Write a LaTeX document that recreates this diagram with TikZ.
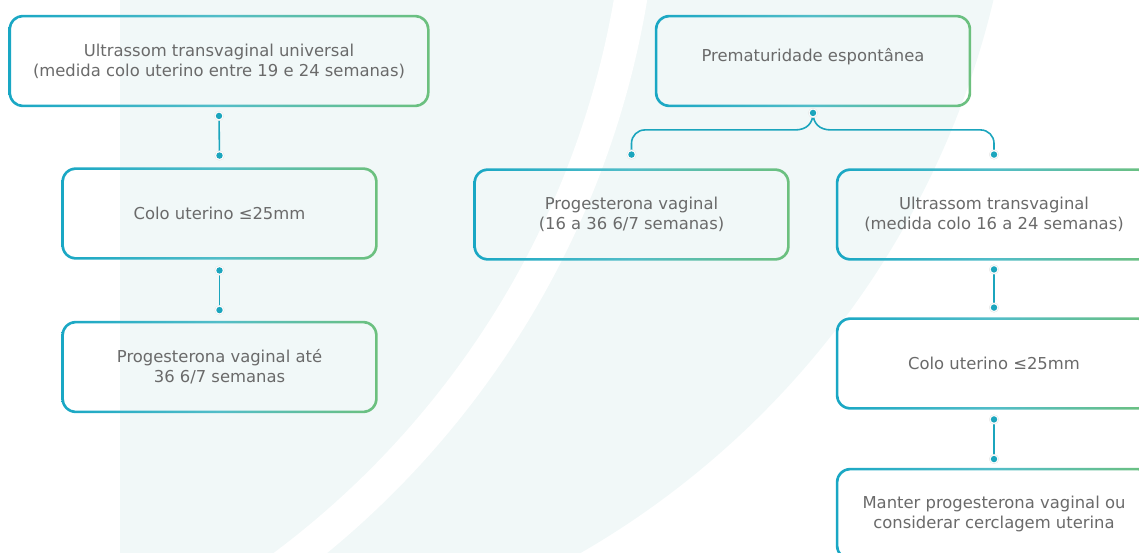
\documentclass[tikz,border=0pt]{standalone}
\usepackage{fontspec}
\setmainfont{DejaVu Sans}
\usetikzlibrary{calc}

\definecolor{pale}{HTML}{F1F8F8}
\definecolor{gA}{HTML}{19A7C4}
\definecolor{gB}{HTML}{52BDC8}
\definecolor{gC}{HTML}{6CC07D}
\definecolor{wirecol}{HTML}{1BA5BD}
\definecolor{txt}{HTML}{6A6A6A}

% teal-to-green stroke used for every box outline
\pgfdeclarehorizontalshading{boxgrad}{100bp}{color(0bp)=(gA); color(25bp)=(gA); color(50bp)=(gB); color(75bp)=(gC); color(100bp)=(gC)}

% rounded outline of a box, drawn as a shaded ring around the node
\newcommand\ringbox[1]{%
  \shade[shading=boxgrad, even odd rule]
    [rounded corners=10.9pt] ($(#1.south west)+(-0.95pt,-0.95pt)$) rectangle ($(#1.north east)+(0.95pt,0.95pt)$)
    [rounded corners=9pt] ($(#1.south west)+(0.95pt,0.95pt)$) rectangle ($(#1.north east)+(-0.95pt,-0.95pt)$);}

% connector end point: small teal dot on a white halo
\newcommand\pinpoint[1]{%
  \filldraw[fill=white, draw=black!10, line width=0.3pt] (#1) circle (3.6pt);
  \fill[wirecol] (#1) circle (2.4pt);}

\begin{document}
\begin{tikzpicture}[x=0.75pt, y=-0.75pt,
  box/.style={inner sep=0pt, minimum height=67pt, minimum width=235pt, align=center,
              text=txt, font=\fontsize{12.3pt}{15pt}\selectfont},
  wire/.style={draw=wirecol, line width=1.2pt}]
\useasboundingbox (0,0) rectangle (1139,553);
\clip (0,0) rectangle (1139,553);

% backdrop: pale disc with a white arc band
\begin{scope}
  \clip (120,0) rectangle (1139,553);
  \fill[pale] (146,-202) circle (871);
\end{scope}
\fill[white, even odd rule] (-250,-150) circle (909.5) (-250,-150) circle (876.5);

% boxes
\node[box, minimum width=313.5pt] (b1) at (219,61)
  {Ultrassom transvaginal universal\\(medida colo uterino entre 19 e 24 semanas)};
\node[box] (b2) at (219.5,213.5) {Colo uterino ≤25mm};
\node[box] (b3) at (219.5,367) {Progesterona vaginal até\\36 6/7 semanas};
\node[box] (b4) at (813,61) {\raisebox{3pt}[\height][\depth]{Prematuridade espontânea}};
\node[box] (b5) at (631.5,214.5) {Progesterona vaginal\\(16 a 36 6/7 semanas)};
\node[box] (b6) at (994,214.5) {Ultrassom transvaginal\\(medida colo 16 a 24 semanas)};
\node[box] (b7) at (994,363.5) {Colo uterino ≤25mm};
\node[box] (b8) at (994,514) {Manter progesterona vaginal ou\\considerar cerclagem uterina};

\ringbox{b1}\ringbox{b2}\ringbox{b3}\ringbox{b4}
\ringbox{b5}\ringbox{b6}\ringbox{b7}\ringbox{b8}

% connector end points
\coordinate (p1) at ($(b1.south)+(0,10)$);
\coordinate (q2) at ($(b2.north)+(0,-13)$);
\coordinate (p2) at ($(b2.south)+(0,12)$);
\coordinate (q3) at ($(b3.north)+(0,-12)$);
\coordinate (p4) at ($(b4.south)+(0,7)$);
\coordinate (q5) at ($(b5.north)+(0,-15)$);
\coordinate (q6) at ($(b6.north)+(0,-15)$);
\coordinate (p6) at ($(b6.south)+(0,10)$);
\coordinate (q7) at ($(b7.north)+(0,-11)$);
\coordinate (p7) at ($(b7.south)+(0,11)$);
\coordinate (q8) at ($(b8.north)+(0,-10)$);

% connectors
\draw[wire] (p1) -- (q2);
\draw[wire] (p2) -- (q3);
\draw[wire] (p6) -- (q7);
\draw[wire] (p7) -- (q8);
\draw[wire] (p4) .. controls +(0,10) and +(12,0) .. ($(p4)+(-18,17)$)
  [rounded corners=10pt] -| (q5);
\draw[wire] (p4) .. controls +(0,10) and +(-12,0) .. ($(p4)+(18,17)$)
  [rounded corners=10pt] -| (q6);

\foreach \c in {p1,q2,p2,q3,p4,q5,q6,p6,q7,p7,q8} {\pinpoint{\c}}
\end{tikzpicture}
\end{document}
